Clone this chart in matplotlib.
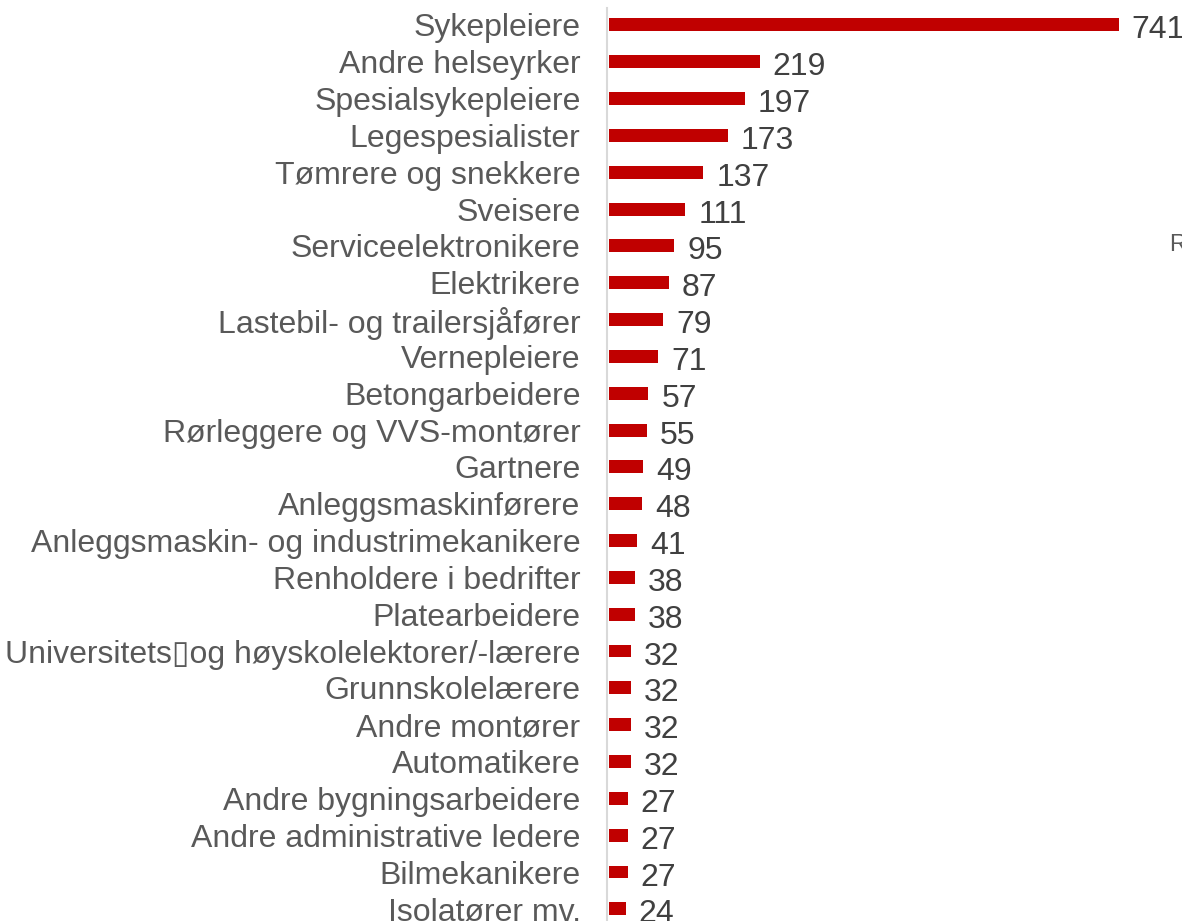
import matplotlib.pyplot as plt
import numpy as np

yrker = ["Sykepleiere", "Andre helseyrker", "Spesialsykepleiere", "Legespesialister",
         "Tømrere og snekkere", "Sveisere", "Serviceelektronikere", "Elektrikere",
         "Lastebil- og trailersjåfører", "Vernepleiere", "Betongarbeidere",
         "Rørleggere og VVS-montører", "Gartnere", "Anleggsmaskinførere",
         "Anleggsmaskin- og industrimekanikere", "Renholdere i bedrifter",
         "Platearbeidere", "Universitets\u25afog høyskolelektorer/-lærere",
         "Grunnskolelærere", "Andre montører", "Automatikere",
         "Andre bygningsarbeidere", "Andre administrative ledere", "Bilmekanikere",
         "Isolatører mv."]
antall = [741, 219, 197, 173, 137, 111, 95, 87, 79, 71, 57, 55, 49, 48, 41, 38, 38,
          32, 32, 32, 32, 27, 27, 27, 24]

plt.rcParams['font.family'] = ['Liberation Sans', 'DejaVu Sans']

W, H = 1182, 921
fig = plt.figure(figsize=(W / 100, H / 100), dpi=100)
ax = fig.add_axes([607 / W, 0, (W - 607) / W, (H - 8) / H])

y = np.arange(len(yrker))
ax.barh(y, antall, height=0.35, color="#c00000")
ax.set_ylim(24.33, -0.46)
ax.set_xlim(-3, (W - 607) / 0.688 - 3)

for yi, v in zip(y, antall):
    ax.annotate(str(v), (v, yi), xytext=(13, -2), textcoords="offset pixels",
                va="center_baseline", ha="left", fontsize=23, color="#404040")

ax.set_yticks(y)
ax.set_yticklabels(yrker, fontsize=23, color="#595959")
ax.tick_params(axis="y", length=0, pad=19)
ax.set_xticks([])
for s in ["top", "right", "bottom"]:
    ax.spines[s].set_visible(False)
ax.spines["left"].set_color("#d9d9d9")
ax.spines["left"].set_linewidth(1.5)

fig.text(1169 / W, 1 - 245 / H, "R", fontsize=17, color="#595959", va="center")

fig.savefig("out.png", dpi=100)
plt.close(fig)
